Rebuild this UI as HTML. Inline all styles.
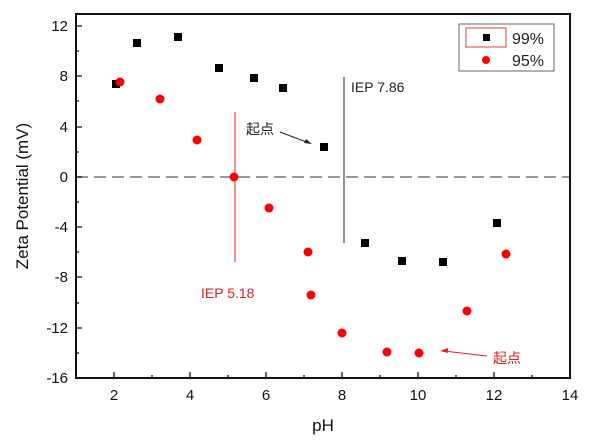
<!DOCTYPE html>
<html><head><meta charset="utf-8"><style>body{margin:0;background:#fff}</style></head><body>
<svg width="601" height="443" xmlns="http://www.w3.org/2000/svg" font-family="Liberation Sans, Noto Sans CJK SC, sans-serif">
<rect width="601" height="443" fill="#fff"/>
<line x1="76" y1="177" x2="570" y2="177" stroke="#777" stroke-width="1.5" stroke-dasharray="12,6"/>
<rect x="76" y="14" width="494" height="364" fill="none" stroke="#111" stroke-width="2"/>
<g stroke="#111" stroke-width="1.3">
<path d="M114 378v-6M190 378v-6M266 378v-6M342 378v-6M418 378v-6M494 378v-6M152 378v-3M228 378v-3M304 378v-3M380 378v-3M456 378v-3M532 378v-3"/>
<path d="M76 26h6M76 76h6M76 127h6M76 177h6M76 227h6M76 277h6M76 328h6M76 378h6M76 51h3M76 101h3M76 152h3M76 202h3M76 252h3M76 303h3M76 353h3"/>
</g>
<g font-size="15" fill="#111" text-anchor="middle">
<text x="114" y="400">2</text><text x="190" y="400">4</text><text x="266" y="400">6</text><text x="342" y="400">8</text><text x="418" y="400">10</text><text x="494" y="400">12</text><text x="570" y="400">14</text>
</g>
<g font-size="15" fill="#111" text-anchor="end">
<text x="68" y="31">12</text><text x="68" y="81">8</text><text x="68" y="132">4</text><text x="68" y="182">0</text><text x="68" y="232">-4</text><text x="68" y="282">-8</text><text x="68" y="333">-12</text><text x="68" y="383">-16</text>
</g>
<text x="323" y="431" font-size="17" text-anchor="middle" fill="#111">pH</text>
<text transform="translate(28,196) rotate(-90)" font-size="17" text-anchor="middle" fill="#111">Zeta Potential (mV)</text>
<line x1="344" y1="77" x2="344" y2="243" stroke="#222"/>
<line x1="235" y1="112" x2="235" y2="262" stroke="#e02020"/>
<g fill="#000">
<rect x="112" y="80" width="8" height="8"/><rect x="133" y="39" width="8" height="8"/><rect x="174" y="33" width="8" height="8"/><rect x="215" y="64" width="8" height="8"/><rect x="250" y="74" width="8" height="8"/><rect x="279" y="84" width="8" height="8"/><rect x="320" y="143" width="8" height="8"/><rect x="361" y="239" width="8" height="8"/><rect x="398" y="257" width="8" height="8"/><rect x="439" y="258" width="8" height="8"/><rect x="493" y="219" width="8" height="8"/>
</g>
<g fill="#ff0000">
<circle cx="120" cy="82" r="4.5"/><circle cx="160" cy="99" r="4.5"/><circle cx="197" cy="140" r="4.5"/><circle cx="234" cy="177" r="4.5"/><circle cx="269" cy="208" r="4.5"/><circle cx="308" cy="252" r="4.5"/><circle cx="311" cy="295" r="4.5"/><circle cx="342" cy="333" r="4.5"/><circle cx="387" cy="352" r="4.5"/><circle cx="419" cy="353" r="4.5"/><circle cx="467" cy="311" r="4.5"/><circle cx="506" cy="254" r="4.5"/>
</g>
<text x="351" y="92" font-size="14" fill="#222">IEP 7.86</text>
<text x="201" y="298" font-size="14" fill="#e02020">IEP 5.18</text>
<text x="246" y="134" font-size="14" fill="#222">起点</text>
<line x1="280" y1="132" x2="309" y2="143" stroke="#222"/>
<path d="M312 144l-8 -1l2 -4z" fill="#222"/>
<text x="493" y="363" font-size="14" fill="#e02020">起点</text>
<line x1="487" y1="356" x2="444" y2="351" stroke="#e02020"/>
<path d="M440 351l8 -3l0 5z" fill="#e02020"/>
<rect x="459" y="24" width="95" height="47" fill="#fff" stroke="#666"/>
<rect x="466" y="28" width="40" height="19" fill="none" stroke="#e04040"/>
<rect x="483" y="34" width="7" height="7" fill="#000"/>
<circle cx="486" cy="60" r="4" fill="#f00"/>
<text x="512" y="44" font-size="16" fill="#222">99%</text>
<text x="512" y="66" font-size="16" fill="#222">95%</text>
</svg>
</body></html>
